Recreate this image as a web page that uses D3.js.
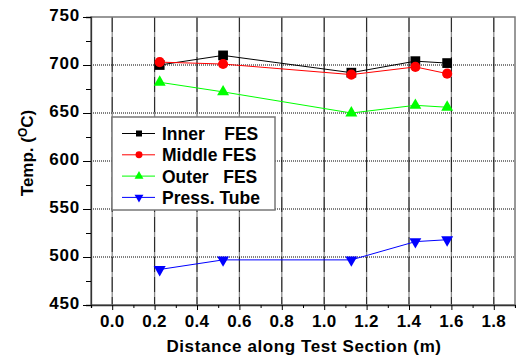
<!DOCTYPE html>
<html>
<head>
<meta charset="utf-8">
<script src="https://cdn.jsdelivr.net/npm/d3@7"></script>
<style>
  body { margin: 0; background: #fff; }
  text { font-family: Arial, "Liberation Sans", sans-serif; font-weight: bold; fill: #000; }
</style>
</head>
<body>
<div id="chart"></div>
<script>
// ---- data ----
const distance = [0.224, 0.523, 1.128, 1.43, 1.58];
const innerFES = [700, 710, 692, 704, 702];
const middleFES = [703, 701, 690, 698, 691];
const outerFES = [682, 672, 650, 658, 656];
const pressTube = [487, 497, 497, 516, 518];
const seriesNames = ["Inner    FES", "Middle FES", "Outer   FES", "Press. Tube"];
const seriesColors = ["#000000", "#ff0000", "#00ff00", "#0000ff"];
const seriesSymbols = ["square", "circle", "triangle", "triangleDown"];
const xTicks = [0.0, 0.2, 0.4, 0.6, 0.8, 1.0, 1.2, 1.4, 1.6, 1.8];
const yTicks = [450, 500, 550, 600, 650, 700, 750];

const W = 516, H = 360;
const margin = { top: 17, right: 1, bottom: 55, left: 91 };

const svg = d3.select("#chart").append("svg")
  .attr("width", W).attr("height", H);

const x = d3.scaleLinear().domain([-0.1, 1.9]).range([margin.left, W - margin.right]);
const y = d3.scaleLinear().domain([450, 750]).range([H - margin.bottom, margin.top]);

//===================== GRID =====================
// vertical grid: grey line with black dashes over it
xTicks.forEach(t => {
  svg.append("line")
    .attr("x1", x(t)).attr("x2", x(t)).attr("y1", y(750)).attr("y2", y(450))
    .attr("stroke", "#8a8a8a").attr("stroke-width", 1.3);
  svg.append("line")
    .attr("x1", x(t)).attr("x2", x(t)).attr("y1", y(750)).attr("y2", y(450))
    .attr("stroke", "#222").attr("stroke-width", 1)
    .attr("stroke-dasharray", "15,5");
});
// horizontal dotted grid
yTicks.filter(t => t > 450 && t < 750).forEach(t => {
  svg.append("line")
    .attr("x1", x(-0.1)).attr("x2", x(1.9)).attr("y1", y(t)).attr("y2", y(t))
    .attr("stroke", "#000").attr("stroke-width", 1)
    .attr("stroke-dasharray", "1,1");
});

//===================== FRAME / AXES =====================
svg.append("rect")
  .attr("x", x(-0.1)).attr("y", y(750))
  .attr("width", x(1.9) - x(-0.1)).attr("height", y(450) - y(750))
  .attr("fill", "none").attr("stroke", "#777").attr("stroke-width", 1.5);

// y axis (left) with minor ticks
const yAxis = svg.append("g").attr("transform", `translate(${x(-0.1)},0)`);
yAxis.call(d3.axisLeft(y).tickValues(d3.range(450, 751, 25)).tickSize(5).tickFormat(""));
yAxis.call(g => g.selectAll(".tick").filter(d => d % 50 === 0).select("line").attr("x2", -8));
yAxis.selectAll("line").attr("stroke", "#000").attr("stroke-width", 1);
yAxis.select(".domain").attr("stroke", "#333").attr("stroke-width", 1.3);
yAxis.selectAll(".tick").filter(d => yTicks.includes(d)).append("text")
  .attr("x", -11).attr("dy", "3.5")
  .attr("text-anchor", "end")
  .style("font-size", "17px").style("letter-spacing", "0.8px")
  .text(d => d);

// x axis (bottom) with minor ticks
const xAxis = svg.append("g").attr("transform", `translate(0,${y(450)})`);
xAxis.call(d3.axisBottom(x).tickValues(d3.range(-1, 20).map(i => i / 10)).tickSize(3).tickFormat(""));
xAxis.call(g => g.selectAll(".tick").filter(d => Math.abs(Math.round(d * 10)) % 2 === 0).select("line").attr("y2", 5));
xAxis.selectAll("line").attr("stroke", "#000").attr("stroke-width", 1);
xAxis.select(".domain").attr("stroke", "#333").attr("stroke-width", 1.3);
xTicks.forEach(t => {
  svg.append("text")
    .attr("x", x(t)).attr("y", 327)
    .attr("text-anchor", "middle")
    .style("font-size", "17px").style("letter-spacing", "0.3px")
    .text(t.toFixed(1));
});

// axis titles
svg.append("text")
  .attr("x", (x(-0.1) + x(1.9)) / 2 + 1).attr("y", 352)
  .attr("text-anchor", "middle")
  .style("font-size", "17px").style("letter-spacing", "0.6px")
  .text("Distance along Test Section (m)");

const yTitle = svg.append("text")
  .attr("transform", "translate(33,153) rotate(-90)")
  .attr("text-anchor", "middle")
  .style("font-size", "17px");
yTitle.append("tspan").text("Temp. (");
yTitle.append("tspan").attr("dy", -6).style("font-size", "12px").text("O");
yTitle.append("tspan").attr("dy", 6).text("C)");

//===================== SERIES =====================
const allSeries = [innerFES, middleFES, outerFES, pressTube];
const symbolType = {
  square: d3.symbolSquare,
  circle: d3.symbolCircle,
  triangle: d3.symbolTriangle,
  triangleDown: d3.symbolTriangle
};
const drawMarker = (g, kind, cx, cy, size, color) => {
  g.append("path")
    .attr("d", d3.symbol().type(symbolType[kind]).size(size)())
    .attr("transform", `translate(${cx},${cy})` + (kind === "triangleDown" ? " rotate(180)" : ""))
    .attr("fill", color);
};
const line = d3.line().x(d => x(d[0])).y(d => y(d[1]));

allSeries.forEach((vals, i) => {
  const pts = distance.map((d, j) => [d, vals[j]]);
  svg.append("path").datum(pts)
    .attr("d", line)
    .attr("fill", "none")
    .attr("stroke", seriesColors[i])
    .attr("stroke-width", 1);
  const sizes = { square: 95, circle: 80, triangle: 62, triangleDown: 62 };
  pts.forEach(p => drawMarker(svg, seriesSymbols[i], x(p[0]), y(p[1]), sizes[seriesSymbols[i]], seriesColors[i]));
});

//===================== LEGEND =====================
const legend = svg.append("g").attr("transform", "translate(112,117)");
legend.append("rect")
  .attr("x", 0).attr("y", 0).attr("width", 163).attr("height", 93)
  .attr("fill", "#fff").attr("stroke", "#777").attr("stroke-width", 1.5);
seriesNames.forEach((name, i) => {
  const ry = 16.5 + i * 21.3;
  legend.append("line")
    .attr("x1", 10).attr("x2", 43).attr("y1", ry).attr("y2", ry)
    .attr("stroke", seriesColors[i]).attr("stroke-width", 1);
  const ls = { square: 36, circle: 38, triangle: 34, triangleDown: 34 };
  drawMarker(legend, seriesSymbols[i], 27, ry, ls[seriesSymbols[i]], seriesColors[i]);
  legend.append("text")
    .attr("x", 50).attr("y", ry + 6.5)
    .attr("xml:space", "preserve")
    .style("white-space", "pre")
    .style("font-size", "17.5px")
    .text(name);
});
</script>
</body>
</html>
